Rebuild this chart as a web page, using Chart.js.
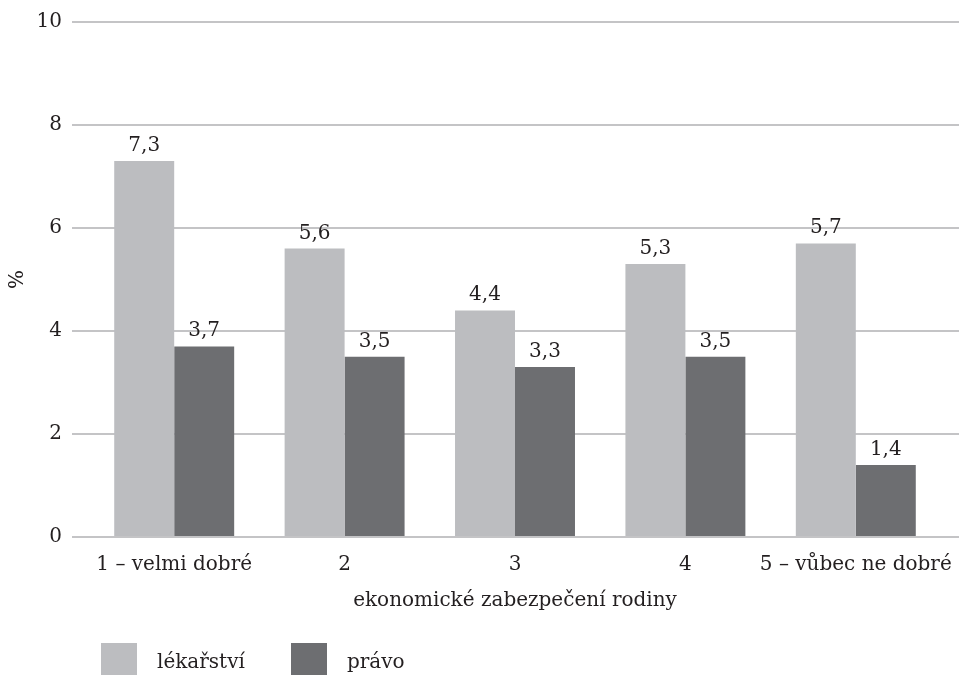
<!DOCTYPE html>
<html>
<head>
<meta charset="utf-8">
<script src="https://cdn.jsdelivr.net/npm/chart.js@4/dist/chart.umd.min.js"></script>
<style>
  body { margin: 0; background: #fff; overflow: hidden; }
  #wrap { position: relative; width: 974px; height: 675px; }
  #legend { position: absolute; left: 0; top: 643px; width: 974px; height: 40px;
    font-family: "DejaVu Serif", serif; font-size: 20px; color: #231f20; }
  .item { position: absolute; top: 0; display: flex; align-items: flex-start; }
  .box { width: 36px; height: 36px; margin-right: 20px; }
  .lbl { line-height: 24px; margin-top: 6px; }
</style>
</head>
<body>
<div id="wrap">
  <canvas id="chart" width="974" height="675"></canvas>
  <div id="legend"></div>
</div>
<script>
const categories = ["1 – velmi dobré", "2", "3", "4", "5 – vůbec ne dobré"];
const seriesNames = ["lékařství", "právo"];
const medicineValues = [7.3, 5.6, 4.4, 5.3, 5.7];
const lawValues = [3.7, 3.5, 3.3, 3.5, 1.4];
const seriesColors = ["#bcbdc0", "#6d6e71"];
const yMin = 0;
const yMax = 10;
const yStep = 2;

const textColor = "#231f20";
const fontFamily = "'DejaVu Serif', serif";

// values written above each bar, with a decimal comma
const barValueLabels = {
  id: "barValueLabels",
  afterDatasetsDraw(chart) {
    const ctx = chart.ctx;
    ctx.save();
    ctx.font = "20px " + fontFamily;
    ctx.fillStyle = textColor;
    ctx.textAlign = "center";
    ctx.textBaseline = "alphabetic";
    chart.data.datasets.forEach((ds, i) => {
      const meta = chart.getDatasetMeta(i);
      meta.data.forEach((bar, j) => {
        const txt = ds.data[j].toFixed(1).replace(".", ",");
        ctx.fillText(txt, bar.x, bar.y - 10);
      });
    });
    ctx.restore();
  },
};

const ctx = document.getElementById("chart").getContext("2d");
new Chart(ctx, {
  type: "bar",
  data: {
    labels: categories,
    datasets: [
      {
        label: seriesNames[0],
        data: medicineValues,
        backgroundColor: seriesColors[0],
        categoryPercentage: 0.704,
        barPercentage: 1,
      },
      {
        label: seriesNames[1],
        data: lawValues,
        backgroundColor: seriesColors[1],
        categoryPercentage: 0.704,
        barPercentage: 1,
      },
    ],
  },
  options: {
    responsive: false,
    animation: false,
    layout: { padding: { top: 22, right: 15, bottom: 62, left: 0 } },
    plugins: {
      legend: { display: false },
      tooltip: { enabled: false },
    },
    scales: {
      x: {
        grid: { display: false, drawTicks: false },
        border: { display: false },
        ticks: {
          color: textColor,
          font: { family: fontFamily, size: 20 },
          padding: 16,
          maxRotation: 0,
          minRotation: 0,
          autoSkip: false,
        },
        title: {
          display: true,
          text: "ekonomické zabezpečení rodiny",
          color: textColor,
          font: { family: fontFamily, size: 20 },
          padding: { top: 12, bottom: 0 },
        },
        afterFit(scale) {
          scale.height = 76;
        },
      },
      y: {
        min: yMin,
        max: yMax,
        ticks: {
          stepSize: yStep,
          color: textColor,
          font: { family: fontFamily, size: 20 },
          padding: 10,
        },
        grid: { color: "#c4c4c6", lineWidth: 2, tickLength: 17 },
        border: { display: false },
        title: {
          display: true,
          text: "%",
          color: textColor,
          font: { family: fontFamily, size: 20 },
          padding: { top: 6, bottom: 0 },
        },
        afterFit(scale) {
          scale.width = 89;
        },
      },
      yRight: {
        position: "right",
        min: yMin,
        max: yMax,
        ticks: { display: false, stepSize: yStep },
        grid: { color: "#c4c4c6", lineWidth: 2, tickLength: 18, drawOnChartArea: false },
        border: { display: false },
      },
    },
  },
  plugins: [barValueLabels],
});

// legend below the plot
const legendEl = document.getElementById("legend");
const legendLefts = [101, 291];
seriesNames.forEach((name, i) => {
  const item = document.createElement("div");
  item.className = "item";
  item.style.left = legendLefts[i] + "px";
  item.innerHTML = '<div class="box" style="background:' + seriesColors[i] + '"></div><div class="lbl">' + name + "</div>";
  legendEl.appendChild(item);
});
</script>
</body>
</html>
